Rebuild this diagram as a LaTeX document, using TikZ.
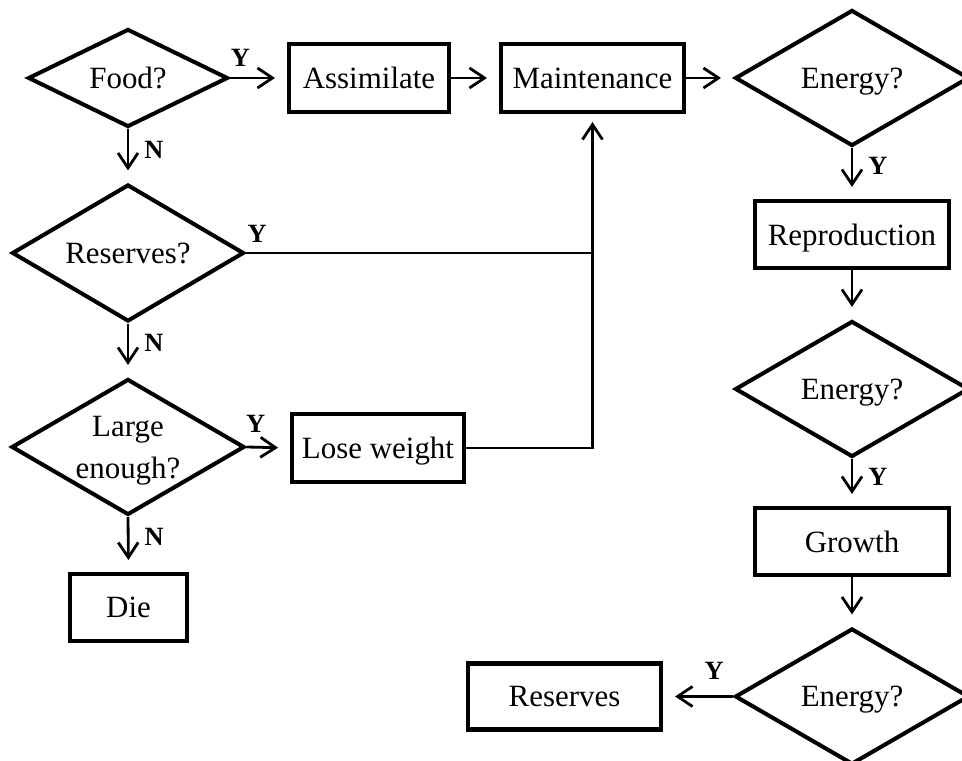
\documentclass[tikz,border=0pt]{standalone}
\usepackage{fontspec}
\setmainfont{Liberation Serif}
\usepackage{tikz}
\usetikzlibrary{positioning, arrows, arrows.meta, shapes.geometric}

\begin{document}
\begin{tikzpicture}[scale=1.0,
  box/.style={draw, line width=2.3pt, rectangle, inner sep=0pt, text depth=0pt, font=\fontsize{17.6}{24}\selectfont},
  decide/.style={draw, line width=2.3pt, diamond, shape aspect=1.7, inner sep=0pt, text depth=0pt, align=center, font=\fontsize{17.6}{24}\selectfont},
  conn/.style={line width=1.6pt, -{Straight Barb[length=0.3cm,width=0.4cm]}, shorten >=0.24cm},
  lbl/.style={inner sep=0pt, font=\bfseries\fontsize{15}{17}\selectfont}]
\clip (0,0) rectangle (19.24,15.22);
% top row
\node[decide, minimum width=4.0cm, minimum height=1.96cm] (food) at (2.56,13.66) {Food?};
\node[box, minimum width=3.2cm, minimum height=1.36cm] (assim) at (7.38,13.66) {Assimilate};
\node[box, minimum width=3.66cm, minimum height=1.36cm] (maint) at (11.85,13.66) {Maintenance};
\node[decide, minimum width=4.68cm, minimum height=2.72cm] (enA) at (17.04,13.66) {Energy?};
% left column
\node[decide, minimum width=4.64cm, minimum height=2.74cm] (resQ) at (2.56,10.16) {Reserves?};
\node[decide, minimum width=4.66cm, minimum height=2.72cm] (large) at (2.56,6.28) {Large\\enough?};
\node[box, minimum width=3.44cm, minimum height=1.36cm] (lose) at (7.56,6.26) {Lose weight};
\node[box, minimum width=2.34cm, minimum height=1.34cm] (die) at (2.57,3.07) {Die};
% right column
\node[box, minimum width=3.88cm, minimum height=1.34cm] (repro) at (17.04,10.53) {Reproduction};
\node[decide, minimum width=4.68cm, minimum height=2.72cm] (enB) at (17.04,7.44) {Energy?};
\node[box, minimum width=3.88cm, minimum height=1.34cm] (growth) at (17.04,4.39) {Growth};
\node[decide, minimum width=4.68cm, minimum height=2.72cm] (enC) at (17.04,1.29) {Energy?};
\node[box, minimum width=3.86cm, minimum height=1.32cm] (resv) at (11.29,1.29) {Reserves};
% connectors
\draw[conn] (food.east) -- node[lbl, pos=.18, above=0.2cm]{Y} (assim.west);
\draw[conn] (assim) -- (maint);
\draw[conn] (maint) -- (enA.west);
\draw[conn] (food.south) -- node[lbl, pos=.39, right=0.3cm]{N} (resQ.north);
\draw[conn] (resQ.south) -- node[lbl, pos=.37, right=0.3cm]{N} (large.north);
\draw[conn] (large.south) -- node[lbl, pos=.37, right=0.3cm]{N} (die.north);
\draw[conn] (large.east) -- node[lbl, pos=.21, above=0.27cm]{Y} (lose.west);
\draw[line width=1.6pt] (resQ.east) -- node[lbl, pos=.032, above=0.19cm]{Y} (resQ.east -| maint.south);
\draw[conn, shorten >=0.16cm] (lose.east) -| (maint.south);
\draw[conn] (enA.south) -- node[lbl, pos=.35, right=0.3cm]{Y} (repro.north);
\draw[conn] (repro) -- (enB.north);
\draw[conn] (enB.south) -- node[lbl, pos=.38, right=0.3cm]{Y} (growth.north);
\draw[conn] (growth) -- (enC.north);
\draw[conn] (enC.west) -- node[lbl, pos=.27, above=0.32cm]{Y} (resv.east);
\end{tikzpicture}
\end{document}
